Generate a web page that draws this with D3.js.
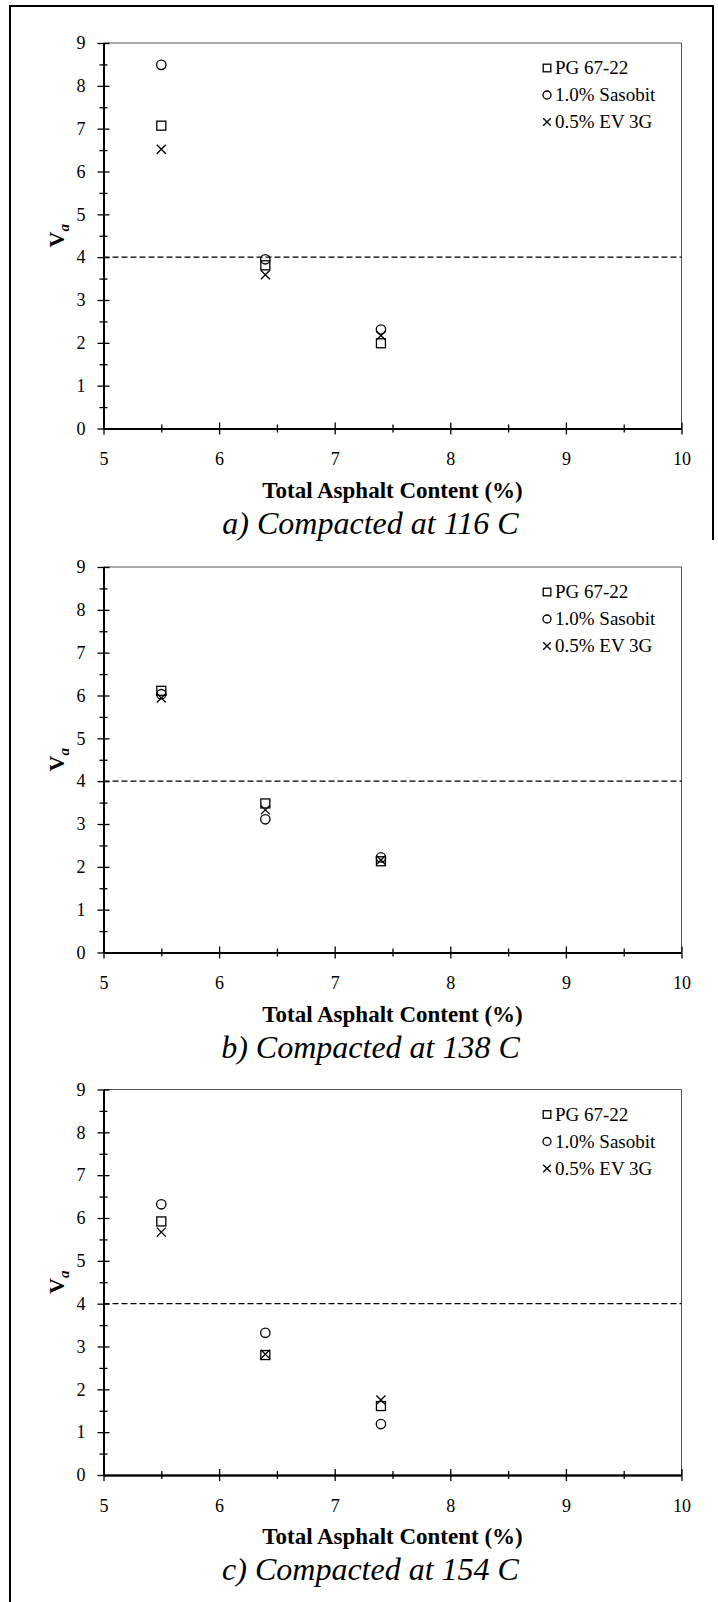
<!DOCTYPE html>
<html>
<head>
<meta charset="utf-8">
<script src="https://cdn.jsdelivr.net/npm/d3@7/dist/d3.min.js"></script>
<style>
  body { margin: 0; background: #fff; }
  svg { display: block; }
  text { font-family: "Liberation Serif", "Times New Roman", serif; }
</style>
</head>
<body>
<div id="graphics"></div>
<script>
// data
var asphaltContent = [5.5, 6.4, 7.4];
var xTicks = [5, 6, 7, 8, 9, 10];
var yTicks = [0, 1, 2, 3, 4, 5, 6, 7, 8, 9];
var seriesNames = ["PG 67-22", "1.0% Sasobit", "0.5% EV 3G"];
var captions = ["a) Compacted at 116 C", "b) Compacted at 138 C", "c) Compacted at 154 C"];
var pg6722 = [[7.07, 3.81, 1.99], [6.11, 3.48, 2.13], [5.92, 2.80, 1.61]];
var sasobit = [[8.49, 3.95, 2.31], [6.03, 3.11, 2.22], [6.32, 3.32, 1.19]];
var ev3g = [[6.52, 3.59, 2.17], [5.94, 3.33, 2.16], [5.67, 2.82, 1.75]];
var targetVa = 4;

var W = 718, H = 1602;
var left = 103.5, right = 681.5, plotH = 385.5;
var tops = [43, 567, 1089.5];
var font = "Liberation Serif, Times New Roman, serif";

var svg = d3.select("#graphics")
  .append("svg")
  .attr("width", W)
  .attr("height", H);

// outer frame of the scanned figure
svg.append("path")
  .attr("d", "M10,1602 V6 H713 V540")
  .attr("fill", "none")
  .attr("stroke", "#000")
  .attr("stroke-width", 2);

var x = d3.scaleLinear().domain([5, 10]).range([left, right]);

function drawMarker(g, type, cx, cy, r) {
  if (type === 0) {
    g.append("rect")
      .attr("x", cx - r).attr("y", cy - r)
      .attr("width", 2 * r).attr("height", 2 * r)
      .attr("fill", "none").attr("stroke", "#000").attr("stroke-width", 1.3);
  } else if (type === 1) {
    g.append("circle")
      .attr("cx", cx).attr("cy", cy).attr("r", r + 0.2)
      .attr("fill", "none").attr("stroke", "#000").attr("stroke-width", 1.3);
  } else {
    g.append("path")
      .attr("d", "M" + (cx - r) + "," + (cy - r) + "L" + (cx + r) + "," + (cy + r) +
                 "M" + (cx - r) + "," + (cy + r) + "L" + (cx + r) + "," + (cy - r))
      .attr("fill", "none").attr("stroke", "#000").attr("stroke-width", 1.3);
  }
}

tops.forEach(function(top, p) {
  var bottom = top + plotH;
  var y = d3.scaleLinear().domain([0, 9]).range([bottom, top]);
  var g = svg.append("g");

  // plot frame (top and right)
  g.append("path")
    .attr("d", "M" + left + "," + top + "H" + right + "V" + bottom)
    .attr("fill", "none")
    .attr("stroke", "#555")
    .attr("stroke-width", 1);

  // 4% target line
  g.append("line")
    .attr("x1", left).attr("x2", right)
    .attr("y1", y(targetVa)).attr("y2", y(targetVa))
    .attr("stroke", "#000")
    .attr("stroke-width", 1.3)
    .attr("stroke-dasharray", "6,3");

  var yMinor = yTicks.slice(0, -1).map(function(d) { return d + 0.5; });
  var xMinor = xTicks.slice(0, -1).map(function(d) { return d + 0.5; });

  // y axis: ticks crossing the line
  g.append("g").attr("transform", "translate(" + left + ",0)")
    .call(d3.axisLeft(y).tickValues(yTicks).tickSize(6).tickSizeOuter(0).tickPadding(12).tickFormat(d3.format("d")));
  g.append("g").attr("transform", "translate(" + left + ",0)")
    .call(d3.axisRight(y).tickValues(yTicks).tickSize(6).tickSizeOuter(0).tickFormat(""));
  g.append("g").attr("transform", "translate(" + left + ",0)")
    .call(d3.axisLeft(y).tickValues(yMinor).tickSize(4).tickSizeOuter(0).tickFormat(""));
  g.append("g").attr("transform", "translate(" + left + ",0)")
    .call(d3.axisRight(y).tickValues(yMinor).tickSize(4).tickSizeOuter(0).tickFormat(""));

  // x axis
  g.append("g").attr("transform", "translate(0," + bottom + ")")
    .call(d3.axisBottom(x).tickValues(xTicks).tickSize(6).tickSizeOuter(0).tickPadding(18).tickFormat(d3.format("d")));
  g.append("g").attr("transform", "translate(0," + bottom + ")")
    .call(d3.axisTop(x).tickValues(xTicks).tickSize(6).tickSizeOuter(0).tickFormat(""));
  g.append("g").attr("transform", "translate(0," + bottom + ")")
    .call(d3.axisBottom(x).tickValues(xMinor).tickSize(4).tickSizeOuter(0).tickFormat(""));
  g.append("g").attr("transform", "translate(0," + bottom + ")")
    .call(d3.axisTop(x).tickValues(xMinor).tickSize(4).tickSizeOuter(0).tickFormat(""));

  g.selectAll("g").attr("font-family", font);
  g.selectAll(".domain").attr("stroke", "#000").attr("stroke-width", 1.5);
  g.selectAll(".tick line").attr("stroke", "#000").attr("stroke-width", 1.3);
  g.selectAll(".tick text")
    .attr("font-family", font)
    .attr("font-size", "18px")
    .attr("fill", "#000");

  // markers
  var sets = [pg6722[p], sasobit[p], ev3g[p]];
  sets.forEach(function(vals, s) {
    vals.forEach(function(v, i) {
      drawMarker(g, s, x(asphaltContent[i]), y(v), 4.5);
    });
  });

  // legend
  seriesNames.forEach(function(name, s) {
    var ly = top + 25 + s * 27;
    drawMarker(g, s, 547, ly, 3.8);
    g.append("text")
      .attr("x", 555)
      .attr("y", ly + 6)
      .attr("font-family", font)
      .attr("font-size", "19px")
      .text(name);
  });

  // y title: V with italic subscript a
  var yt = g.append("text")
    .attr("transform", "translate(64," + (top + plotH / 2) + ") rotate(-90)")
    .attr("text-anchor", "middle")
    .attr("font-family", font)
    .attr("font-weight", "bold")
    .attr("font-size", "22px");
  yt.append("tspan").text("V");
  yt.append("tspan")
    .attr("font-style", "italic")
    .attr("font-size", "15px")
    .attr("dy", 5)
    .text("a");

  // x title
  g.append("text")
    .attr("x", (left + right) / 2)
    .attr("y", bottom + 69)
    .attr("text-anchor", "middle")
    .attr("font-family", font)
    .attr("font-weight", "bold")
    .attr("font-size", "23px")
    .text("Total Asphalt Content (%)");

  // caption
  g.append("text")
    .attr("x", 370.5)
    .attr("y", bottom + 105)
    .attr("text-anchor", "middle")
    .attr("font-family", font)
    .attr("font-style", "italic")
    .attr("font-size", "32px")
    .text(captions[p]);
});
</script>
</body>
</html>
